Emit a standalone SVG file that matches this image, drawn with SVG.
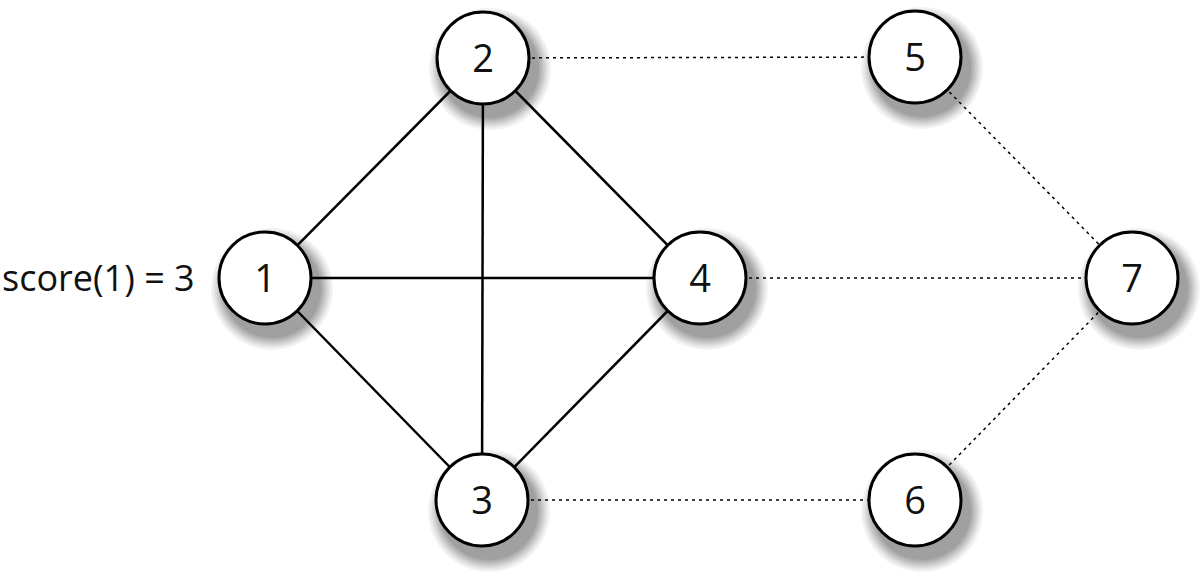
<svg xmlns="http://www.w3.org/2000/svg" width="1200" height="579" viewBox="0 0 1200 579">
<defs>
<g id="shadow">
<circle r="61" fill="#f3f3f3"/>
<circle r="59" fill="#e8e8e8"/>
<circle r="57" fill="#dadada"/>
<circle r="55" fill="#cbcbcb"/>
<circle r="53" fill="#bcbcbc"/>
<circle r="51" fill="#adadad"/>
<circle r="49" fill="#a0a0a0"/>
</g>
</defs>
<style>
.solid{stroke:#000;stroke-width:2.5;fill:none}
.dot{stroke:#000;stroke-width:1.5;stroke-dasharray:3 4;fill:none}
.node circle{fill:#fff;stroke:#000;stroke-width:3}
.node text, .lbl{font-family:"Open Sans","Noto Sans","Liberation Sans",sans-serif;font-size:38px;fill:#111}
.node text{text-anchor:middle}
.lbl{font-size:36px}
</style>
<rect width="1200" height="579" fill="#fff"/>
<g id="shadows">
<use href="#shadow" x="272" y="289"/>
<use href="#shadow" x="490" y="69"/>
<use href="#shadow" x="489" y="511"/>
<use href="#shadow" x="707" y="289"/>
<use href="#shadow" x="922" y="68"/>
<use href="#shadow" x="922" y="511"/>
<use href="#shadow" x="1139" y="289"/>
</g>
<g id="connectors">
<line class="solid" x1="265" y1="278" x2="483" y2="58"/>
<line class="solid" x1="265" y1="278" x2="700" y2="278"/>
<line class="solid" x1="265" y1="278" x2="482" y2="500"/>
<line class="solid" x1="483" y1="58" x2="700" y2="278"/>
<line class="solid" x1="483" y1="58" x2="482" y2="500"/>
<line class="solid" x1="482" y1="500" x2="700" y2="278"/>
<line class="dot" x1="483" y1="58" x2="915" y2="57"/>
<line class="dot" x1="700" y1="278" x2="1132" y2="278"/>
<line class="dot" x1="482" y1="500" x2="915" y2="500"/>
<line class="dot" x1="915" y1="57" x2="1132" y2="278"/>
<line class="dot" x1="915" y1="500" x2="1132" y2="278"/>
</g>
<text class="lbl" x="2" y="291">score(1) = 3</text>
<g id="n1" class="node"><circle cx="265" cy="278" r="46"/><text x="265" y="292">1</text></g>
<g id="n2" class="node"><circle cx="483" cy="58" r="46"/><text x="483" y="72">2</text></g>
<g id="n3" class="node"><circle cx="482" cy="500" r="46"/><text x="482" y="514">3</text></g>
<g id="n4" class="node"><circle cx="700" cy="278" r="46"/><text x="700" y="292">4</text></g>
<g id="n5" class="node"><circle cx="915" cy="57" r="46"/><text x="915" y="71">5</text></g>
<g id="n6" class="node"><circle cx="915" cy="500" r="46"/><text x="915" y="514">6</text></g>
<g id="n7" class="node"><circle cx="1132" cy="278" r="46"/><text x="1132" y="292">7</text></g>
</svg>
